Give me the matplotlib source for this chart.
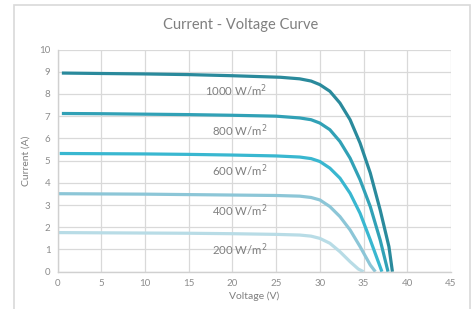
import matplotlib
matplotlib.use("Agg")
import matplotlib.pyplot as plt
from matplotlib.patches import Rectangle

plt.rcParams["font.family"] = ["Lato", "DejaVu Sans"]

# voltage (V) / current (A)
v_1000 = [0.5, 5, 10, 15, 20, 25.5, 27.7, 29.0, 30.0, 31.15, 32.3, 33.46, 34.6, 35.77, 36.9, 37.9, 38.3]
i_1000 = [8.94, 8.92, 8.90, 8.87, 8.82, 8.75, 8.68, 8.58, 8.42, 8.12, 7.59, 6.84, 5.79, 4.44, 2.78, 1.13, 0.0]

v_800 = [0.5, 5, 10, 15, 20, 25, 27.7, 29.0, 30.0, 31.15, 32.3, 33.46, 34.6, 35.77, 36.9, 37.8]
i_800 = [7.12, 7.11, 7.09, 7.07, 7.04, 7.0, 6.92, 6.84, 6.69, 6.39, 5.86, 5.11, 4.14, 2.93, 1.43, 0.0]

v_600 = [0.25, 5, 10, 15, 20, 25, 27.7, 29.0, 30.0, 31.15, 32.3, 33.46, 34.6, 35.77, 37.1]
i_600 = [5.32, 5.31, 5.30, 5.28, 5.25, 5.21, 5.16, 5.09, 4.96, 4.66, 4.21, 3.53, 2.63, 1.43, 0.0]

v_400 = [0.1, 5, 10, 15, 20, 25, 27.7, 29.0, 30.0, 31.15, 32.3, 33.46, 34.6, 35.77, 36.35]
i_400 = [3.51, 3.50, 3.49, 3.47, 3.45, 3.43, 3.40, 3.34, 3.23, 2.93, 2.48, 1.88, 1.13, 0.30, 0.0]

v_200 = [0.1, 5, 10, 15, 20, 25, 27.7, 29.0, 30.0, 31.15, 32.3, 33.46, 34.4, 35.0]
i_200 = [1.76, 1.75, 1.74, 1.73, 1.71, 1.68, 1.65, 1.60, 1.50, 1.28, 0.90, 0.45, 0.12, 0.0]

labels = ["1000 W/m$^2$", "800 W/m$^2$", "600 W/m$^2$", "400 W/m$^2$", "200 W/m$^2$"]
colors = ["#2a8a9c", "#31a1b6", "#39b7d0", "#8cc6d7", "#b8dce6"]

x_ticks = list(range(0, 46, 5))
y_ticks = list(range(0, 11))

series = [(v_1000, i_1000), (v_800, i_800), (v_600, i_600), (v_400, i_400), (v_200, i_200)]

fig = plt.figure(figsize=(4.75, 3.09), dpi=100)
fig.patch.set_facecolor("white")
fig.patches.append(Rectangle((14 / 475, -0.05), (470 - 14) / 475, 1.05 - 5 / 309,
                             transform=fig.transFigure, fill=False,
                             edgecolor="#d9d9d9", linewidth=1.2))

ax = fig.add_axes([57.5 / 475, 1 - 271.7 / 309, (451 - 57.5) / 475, (271.7 - 49.5) / 309])
ax.set_xlim(0, 45)
ax.set_ylim(0, 10)
ax.set_xticks(x_ticks)
ax.set_yticks(y_ticks)
ax.grid(True, color="#d9d9d9", linewidth=0.9)
ax.set_axisbelow(True)
for s in ["top", "right"]:
    ax.spines[s].set_visible(False)
for s in ["left", "bottom"]:
    ax.spines[s].set_color("#d0d0d0")
    ax.spines[s].set_linewidth(1.0)
ax.tick_params(length=0, labelsize=7, labelcolor="#8c8c8c", pad=5)

for (v, i), c, lab in zip(series, colors, labels):
    ax.plot(v, i, color=c, linewidth=2.3, solid_capstyle="butt", solid_joinstyle="round")
    # label sits under the flat part of each curve
    ax.text(24.0, i[0] - 0.78, lab, ha="right", va="center", fontsize=8.2, color="#7f7f7f")

ax.set_xlabel("Voltage (V)", fontsize=7.5, color="#7f7f7f", labelpad=3)
ax.set_ylabel("Current (A)", fontsize=7.5, color="#7f7f7f", labelpad=6)
fig.text(241 / 475, 1 - 25 / 309, "Current - Voltage Curve", ha="center", va="center",
         fontsize=10.5, color="#7f7f7f")

fig.savefig("out.png", dpi=100)
